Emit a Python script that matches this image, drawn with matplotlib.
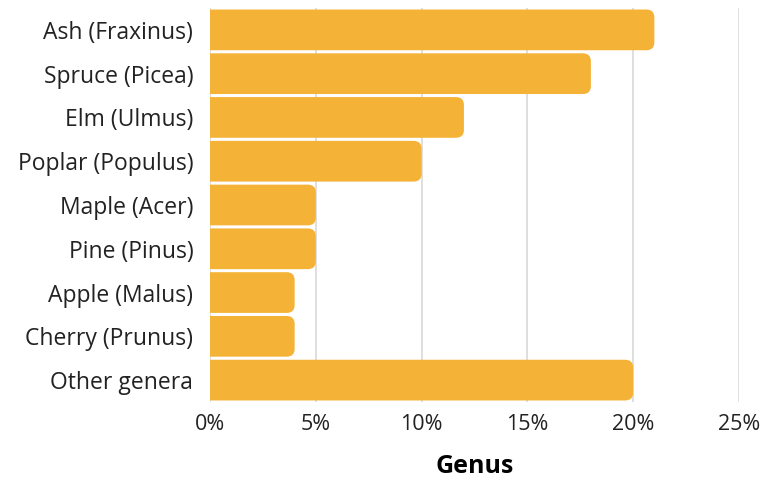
import matplotlib
matplotlib.use("Agg")
import matplotlib.pyplot as plt
from matplotlib.patches import FancyBboxPatch
from matplotlib.ticker import FuncFormatter

genera = ["Ash (Fraxinus)", "Spruce (Picea)", "Elm (Ulmus)", "Poplar (Populus)",
          "Maple (Acer)", "Pine (Pinus)", "Apple (Malus)", "Cherry (Prunus)", "Other genera"]
share = [21, 18, 12, 10, 5, 5, 4, 4, 20]
ticks = [0, 5, 10, 15, 20, 25]

plt.rcParams['font.family'] = ['Open Sans', 'DejaVu Sans']

fig = plt.figure(figsize=(7.74, 4.8), dpi=100)
ax = fig.add_axes([210 / 774, 1 - 402 / 480, 529 / 774, 394 / 480])

ypos = list(range(len(genera)))
bars = ax.barh(ypos, share, height=0.93, color="#F4B336")

# swap plain bars for ones rounded on the right end; left end hides past the axis
r = 0.38
for b in bars:
    x0, y0, w, h = b.get_x(), b.get_y(), b.get_width(), b.get_height()
    b.remove()
    p = FancyBboxPatch((x0 - 1, y0), w + 1, h, boxstyle=f"round,pad=0,rounding_size={r}",
                       mutation_aspect=0.47, fc="#F4B336", ec="none", zorder=2)
    ax.add_patch(p)
    p.set_clip_path(ax.patch)

ax.set_xlim(0, 25)
ax.set_ylim(len(genera) - 0.5, -0.5)
ax.set_yticks(ypos)
ax.set_yticklabels(genera, fontsize=16.5, color="#222222")
ax.set_xticks(ticks)
ax.xaxis.set_major_formatter(FuncFormatter(lambda v, p: f"{v:.0f}%"))
ax.tick_params(axis="x", labelsize=15.5, colors="#222222", length=0, pad=9)
ax.tick_params(axis="y", length=0, pad=12)
ax.grid(axis="x", color="#d9d9d9", linewidth=1.2, zorder=0)
ax.set_axisbelow(True)
for s in ax.spines.values():
    s.set_visible(False)
ax.set_xlabel("Genus", fontsize=18, fontweight="bold", labelpad=13)

fig.savefig("out.png", dpi=100)
